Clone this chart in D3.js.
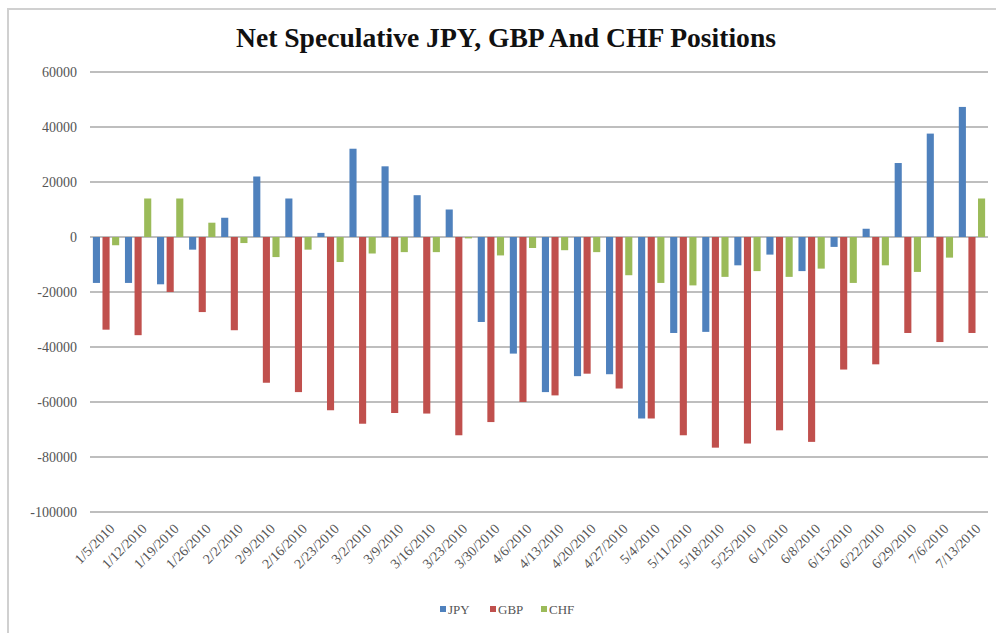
<!DOCTYPE html>
<html>
<head>
<meta charset="utf-8">
<script src="https://cdn.jsdelivr.net/npm/d3@7"></script>
<style>
  body { margin: 0; background: #fff; }
  svg { display: block; }
</style>
</head>
<body>
<div id="chart"></div>
<script>
// weekly dates (CFTC report days)
var dates = ["1/5/2010", "1/12/2010", "1/19/2010", "1/26/2010", "2/2/2010", "2/9/2010", "2/16/2010",
  "2/23/2010", "3/2/2010", "3/9/2010", "3/16/2010", "3/23/2010", "3/30/2010", "4/6/2010",
  "4/13/2010", "4/20/2010", "4/27/2010", "5/4/2010", "5/11/2010", "5/18/2010", "5/25/2010",
  "6/1/2010", "6/8/2010", "6/15/2010", "6/22/2010", "6/29/2010", "7/6/2010", "7/13/2010"];

var seriesNames = ["JPY", "GBP", "CHF"];

var jpy = [-16700, -16700, -17200, -4600, 7000, 22000, 14000, 1500, 32100, 25700, 15200, 10000,
  -30900, -42400, -56400, -50600, -49900, -66000, -34900, -34500, -10300, -6400, -12400, -3600,
  3000, 26900, 37600, 47300];
var gbp = [-33700, -35700, -20000, -27300, -33900, -53000, -56400, -63000, -67900, -64000, -64200,
  -72100, -67300, -60000, -57600, -49700, -55100, -66000, -72100, -76600, -75100, -70300, -74500,
  -48200, -46300, -34900, -38200, -34900];
var chf = [-3000, 14000, 14000, 5200, -2200, -7300, -4600, -9100, -6000, -5500, -5500, -500,
  -6700, -4000, -4800, -5500, -13900, -16700, -17600, -14500, -12400, -14500, -11500, -16700,
  -10300, -12700, -7500, 14000];

var yTicks = [60000, 40000, 20000, 0, -20000, -40000, -60000, -80000, -100000];

var colors = ["#4f81bd", "#c0504d", "#9bbb59"];

var width = 996, height = 633;
var margin = {top: 72, right: 8, bottom: 121, left: 90};
var font = "Liberation Serif, Times New Roman, serif";

var svg = d3.select("#chart").append("svg")
  .attr("width", width)
  .attr("height", height);

// frame of the chart area
svg.append("path")
  .attr("d", "M8," + height + "V9H" + width)
  .attr("fill", "none")
  .attr("stroke", "#d0d0d0")
  .attr("stroke-width", 2);

svg.append("text")
  .attr("x", 506)
  .attr("y", 47)
  .attr("text-anchor", "middle")
  .attr("font-family", font)
  .attr("font-weight", "bold")
  .attr("font-size", "27px")
  .attr("textLength", 540)
  .attr("lengthAdjust", "spacingAndGlyphs")
  .attr("fill", "#111")
  .text("Net Speculative JPY, GBP And CHF Positions");

var plotW = width - margin.left - margin.right,
  plotH = height - margin.top - margin.bottom;

var g = svg.append("g")
  .attr("transform", "translate(" + margin.left + "," + margin.top + ")");

var x0 = d3.scaleBand().domain(dates).range([0, plotW]).padding(0);
var x1 = d3.scaleBand().domain(seriesNames).range([0, x0.bandwidth()])
  .paddingInner(0.26).paddingOuter(0.3);
var y = d3.scaleLinear().domain([-100000, 60000]).range([plotH, 0]);

// gridlines
g.selectAll(".grid")
  .data(yTicks)
  .enter().append("line")
  .attr("x1", 0).attr("x2", plotW)
  .attr("y1", function(d) { return y(d); })
  .attr("y2", function(d) { return y(d); })
  .attr("stroke", "#a8a8a8")
  .attr("stroke-width", 1.5);

// y labels
g.selectAll(".ylab")
  .data(yTicks)
  .enter().append("text")
  .attr("x", -13)
  .attr("y", function(d) { return y(d); })
  .attr("dy", "0.35em")
  .attr("text-anchor", "end")
  .attr("font-family", font)
  .attr("font-size", "14px")
  .attr("fill", "#555")
  .text(function(d) { return d; });

var allSeries = [jpy, gbp, chf];

allSeries.forEach(function(vals, si) {
  g.selectAll(".bar" + si)
    .data(vals)
    .enter().append("rect")
    .attr("x", function(d, i) { return x0(dates[i]) + x1(seriesNames[si]); })
    .attr("width", x1.bandwidth())
    .attr("y", function(d) { return y(Math.max(0, d)); })
    .attr("height", function(d) { return Math.abs(y(d) - y(0)); })
    .attr("fill", colors[si]);
});

// x labels, rotated
g.selectAll(".xlab")
  .data(dates)
  .enter().append("text")
  .attr("transform", function(d) {
    return "translate(" + (x0(d) + x0.bandwidth() / 2 + 6) + "," + (plotH + 14) + ") rotate(-45)";
  })
  .attr("text-anchor", "end")
  .attr("dy", "0.35em")
  .attr("font-family", font)
  .attr("font-size", "14px")
  .attr("fill", "#555")
  .text(function(d) { return d; });

// legend
var legend = svg.append("g").attr("transform", "translate(440,609)");
var legX = [0, 50, 101];
seriesNames.forEach(function(name, i) {
  legend.append("rect")
    .attr("x", legX[i]).attr("y", -3)
    .attr("width", 6).attr("height", 6)
    .attr("fill", colors[i]);
  legend.append("text")
    .attr("x", legX[i] + 8).attr("y", 0)
    .attr("dy", "0.35em")
    .attr("font-family", font)
    .attr("font-size", "13px")
    .attr("fill", "#555")
    .text(name);
});
</script>
</body>
</html>
